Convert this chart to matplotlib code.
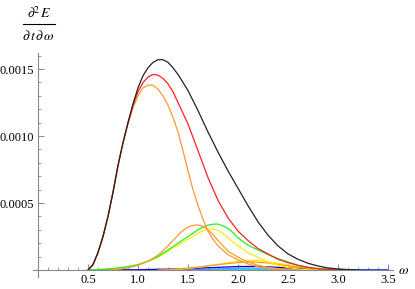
import matplotlib
matplotlib.use("Agg")
import matplotlib.pyplot as plt
from matplotlib.ticker import MultipleLocator

plt.rcParams['font.family'] = 'Liberation Serif'
plt.rcParams['mathtext.fontset'] = 'stix'

# values, in units of 1e-4
w_black = [0.5, 0.55, 0.6, 0.65, 0.7, 0.75, 0.8, 0.85, 0.9, 0.95, 1.0, 1.05, 1.1, 1.15,
           1.2, 1.25, 1.3, 1.35, 1.4, 1.45, 1.5, 1.6, 1.7, 1.8, 1.9, 2.0, 2.1, 2.2,
           2.3, 2.4, 2.5, 2.6, 2.7, 2.8, 2.9, 3.0, 3.1, 3.2]
black = [0, 0.4, 1.3, 2.5, 4.0, 5.8, 7.8, 9.5, 11.0, 12.4, 13.6, 14.5, 15.1, 15.5,
         15.7, 15.7, 15.5, 15.1, 14.6, 14.0, 13.4, 11.9, 10.3, 8.8, 7.4, 6.1, 4.8, 3.6,
         2.6, 1.8, 1.2, 0.8, 0.5, 0.3, 0.15, 0.08, 0.03, 0.0]

w_red = [0.5, 0.55, 0.6, 0.65, 0.7, 0.75, 0.8, 0.85, 0.9, 0.95, 1.0, 1.05, 1.1, 1.15,
         1.2, 1.25, 1.3, 1.35, 1.4, 1.45, 1.5, 1.6, 1.7, 1.8, 1.9, 2.0, 2.1, 2.2,
         2.3, 2.4, 2.5, 2.6, 2.7, 2.8, 2.9, 3.0]
red = [0, 0.4, 1.3, 2.5, 4.0, 5.8, 7.8, 9.5, 11.0, 12.3, 13.3, 14.0, 14.4, 14.6,
       14.55, 14.3, 13.9, 13.3, 12.5, 11.7, 10.9, 8.9, 6.9, 5.2, 3.9, 2.9, 2.2, 1.6,
       1.2, 0.8, 0.55, 0.35, 0.2, 0.1, 0.04, 0]

w_orange1 = [0.5, 0.55, 0.6, 0.65, 0.7, 0.75, 0.8, 0.85, 0.9, 0.95, 1.0, 1.05, 1.1, 1.15,
             1.2, 1.25, 1.3, 1.35, 1.4, 1.45, 1.5, 1.55, 1.6, 1.65, 1.7, 1.75, 1.8, 1.9,
             2.0, 2.1, 2.2, 2.3, 2.4, 2.5]
orange1 = [0, 0.4, 1.3, 2.5, 4.0, 5.8, 7.8, 9.5, 10.9, 12.1, 13.0, 13.6, 13.8, 13.8,
           13.5, 13.0, 12.3, 11.4, 10.3, 8.9, 7.4, 6.0, 4.8, 3.8, 2.9, 2.3, 1.8, 1.15,
           0.75, 0.45, 0.25, 0.12, 0.04, 0]

w_orange2 = [0.7, 0.8, 0.9, 1.0, 1.1, 1.2, 1.3, 1.4, 1.45, 1.5, 1.55, 1.6, 1.65, 1.7,
             1.75, 1.8, 1.9, 2.0, 2.1, 2.2, 2.3, 2.4, 2.5, 2.6]
orange2 = [0, 0.05, 0.15, 0.35, 0.65, 1.1, 1.8, 2.6, 2.95, 3.2, 3.33, 3.36, 3.25, 3.0,
           2.65, 2.2, 1.4, 0.95, 0.6, 0.35, 0.2, 0.1, 0.04, 0]

w_green = [0.5, 0.6, 0.7, 0.8, 0.9, 1.0, 1.1, 1.2, 1.3, 1.4, 1.5, 1.6, 1.65, 1.7, 1.75,
           1.8, 1.85, 1.9, 1.95, 2.0, 2.1, 2.2, 2.3, 2.4, 2.5, 2.6, 2.7, 2.8, 2.9, 3.0]
green = [0, 0.03, 0.08, 0.15, 0.25, 0.4, 0.65, 1.0, 1.5, 2.0, 2.5, 3.0, 3.2, 3.35, 3.42,
         3.43, 3.3, 3.1, 2.8, 2.4, 1.85, 1.5, 1.15, 0.85, 0.6, 0.35, 0.2, 0.1, 0.04, 0]

w_yellow = [0.5, 0.6, 0.7, 0.8, 0.9, 1.0, 1.1, 1.2, 1.3, 1.4, 1.5, 1.6, 1.65, 1.7, 1.75,
            1.8, 1.85, 1.9, 2.0, 2.1, 2.2, 2.3, 2.4, 2.5, 2.6, 2.7, 2.8]
yellow = [0, 0.03, 0.08, 0.15, 0.25, 0.4, 0.65, 0.95, 1.4, 1.85, 2.3, 2.75, 2.92, 3.05, 3.07,
          2.95, 2.72, 2.4, 1.8, 1.3, 0.95, 0.6, 0.35, 0.18, 0.08, 0.02, 0]

w_orange3 = [1.2, 1.4, 1.6, 1.8, 2.0, 2.15, 2.3, 2.5, 2.7, 2.9, 3.0]
orange3 = [0, 0.08, 0.22, 0.4, 0.55, 0.6, 0.52, 0.3, 0.12, 0.03, 0]

w_yellow2 = [1.3, 1.5, 1.7, 1.9, 2.1, 2.2, 2.4, 2.6, 2.8, 3.0]
yellow2 = [0, 0.1, 0.3, 0.55, 0.72, 0.7, 0.5, 0.25, 0.08, 0]

w_blue = [0.5, 1.0, 1.5, 1.8, 2.0, 2.2, 2.4, 2.6, 2.8, 3.0, 3.2, 3.5]
blue = [0, 0.02, 0.1, 0.2, 0.26, 0.27, 0.2, 0.12, 0.05, 0.02, 0.005, 0]

w_lblue = [1.4, 1.7, 2.0, 2.3, 2.6, 2.9, 3.2]
lblue = [0, 0.06, 0.13, 0.15, 0.1, 0.04, 0]

w_cyan = [0.5, 1.0, 1.5, 2.0, 2.5, 3.0, 3.5]
cyan = [0, 0.005, 0.015, 0.03, 0.035, 0.02, 0]

series = [
    (w_cyan, cyan, '#00e5e5'),
    (w_lblue, lblue, '#5a8cff'),
    (w_blue, blue, '#0000dd'),
    (w_yellow2, yellow2, '#ffe600'),
    (w_orange3, orange3, '#ff9a30'),
    (w_yellow, yellow, '#ffee00'),
    (w_green, green, '#22ee22'),
    (w_orange2, orange2, '#ff9a30'),
    (w_orange1, orange1, '#ff9a30'),
    (w_red, red, '#ff2020'),
    (w_black, black, '#222222'),
]

fig = plt.figure(figsize=(4.15, 2.89), dpi=100)
ax = fig.add_axes([33 / 415, 12 / 289, 360 / 415, 224 / 289])

for w, v, c in series:
    ax.plot(w, [x * 1e-4 for x in v], color=c, lw=0.9, solid_joinstyle='round')

ax.set_xlim(-0.05, 3.55)
ax.set_ylim(-0.0000522, 0.00162)

for s in ['top', 'right']:
    ax.spines[s].set_visible(False)
ax.spines['left'].set_position(('data', 0))
ax.spines['bottom'].set_position(('data', 0))
for s in ['left', 'bottom']:
    ax.spines[s].set_color('#888888')
    ax.spines[s].set_linewidth(0.8)

ax.xaxis.set_minor_locator(MultipleLocator(0.1))
ax.yaxis.set_minor_locator(MultipleLocator(0.0001))
ax.set_xticks([0.5, 1.0, 1.5, 2.0, 2.5, 3.0, 3.5])
ax.set_xticklabels(['0.5', '1.0', '1.5', '2.0', '2.5', '3.0', '3.5'])
ax.set_yticks([0.0005, 0.0010, 0.0015])
ax.set_yticklabels(['0.0005', '0.0010', '0.0015'])

ax.tick_params(axis='both', which='both', direction='in', color='#888888', labelsize=9, pad=3)
ax.tick_params(which='major', length=4, width=0.7)
ax.tick_params(which='minor', length=2.5, width=0.6)

fig.text(39 / 415, 1 - 13 / 289, r'$\partial^2\, E$', ha='center', va='center', fontsize=10)
fig.add_artist(plt.Line2D([23 / 415, 55 / 415], [1 - 24 / 289, 1 - 24 / 289],
                          color='black', lw=0.8))
fig.text(39 / 415, 1 - 36 / 289, r'$\partial\, t\, \partial\, \omega$', ha='center',
         va='center', fontsize=10)
fig.text(398 / 415, 1 - 270 / 289, r'$\omega$', ha='left', va='center', fontsize=10)

fig.savefig('out.png', dpi=100)
